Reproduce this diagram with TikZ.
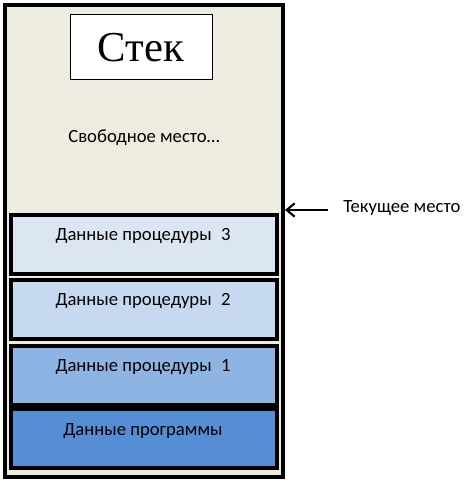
\documentclass[tikz,border=0pt]{standalone}
\usepackage{fontspec}
\setmainfont{Carlito}
\newfontfamily\titlefont{Liberation Serif}
\usetikzlibrary{arrows.meta}
\definecolor{bgstack}{HTML}{EEECE1}
\definecolor{pthree}{HTML}{DCE6F2}
\definecolor{ptwo}{HTML}{C6D9F1}
\definecolor{pone}{HTML}{8EB4E3}
\definecolor{pprog}{HTML}{558ED5}
\begin{document}
\begin{tikzpicture}[x=0.75pt,y=-0.75pt,
  layer/.style={draw=black,line width=2.3pt},
  lbl/.style={font=\fontsize{14}{16}\selectfont,inner sep=0pt,anchor=center}]
\useasboundingbox (0,0) rectangle (468,485);
% outer stack
\draw[line width=2.3pt,fill=bgstack] (5,5) rectangle (283,477);
% title
\node[draw=black,line width=0.75pt,fill=white,minimum width=106.5pt,minimum height=48.75pt,inner sep=0pt,font=\titlefont\fontsize{32}{36}\selectfont] (title) at (141,47.5) {Стек};
\node[lbl] (free) at (144,138) {Свободное место…};
% layers
\draw[layer,fill=pthree] (11,215) rectangle (277,274);
\node[lbl] (p3) at (143,236) {Данные процедуры\enspace3};
\draw[layer,fill=ptwo] (11,280) rectangle (277,339);
\node[lbl] (p2) at (143,301) {Данные процедуры\enspace2};
\draw[layer,fill=pone] (11,346) rectangle (277,405);
\node[lbl] (p1) at (143,367) {Данные процедуры\enspace1};
\draw[layer,fill=pprog] (11,409) rectangle (277,468);
\node[lbl] (pp) at (143,431) {Данные программы};
% pointer
\node[lbl,anchor=west] (cur) at (343,208) {Текущее место};
\coordinate (arrstart) at (328,210);
\coordinate (arrend) at (285,210);
\draw[line width=1.6pt,-{Straight Barb[length=6pt,width=10pt]}] (arrstart) -- (arrend);
\end{tikzpicture}
\end{document}
